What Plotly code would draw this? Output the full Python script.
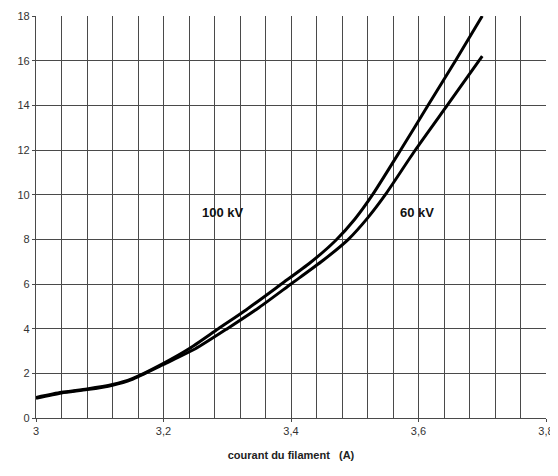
import plotly.graph_objects as go

# Data
x_100kv = [3.00, 3.04, 3.08, 3.12, 3.15, 3.20, 3.24, 3.286, 3.33, 3.385, 3.43, 3.47, 3.50, 3.528, 3.572, 3.615, 3.658, 3.70]
y_100kv = [0.92, 1.15, 1.30, 1.50, 1.75, 2.45, 3.10, 4.00, 4.85, 6.00, 6.95, 7.95, 8.90, 10.00, 12.00, 14.00, 16.00, 18.00]

x_60kv = [3.00, 3.04, 3.08, 3.12, 3.15, 3.20, 3.25, 3.30, 3.35, 3.40, 3.45, 3.49, 3.52, 3.548, 3.595, 3.645, 3.70]
y_60kv = [0.88, 1.12, 1.27, 1.47, 1.72, 2.40, 3.10, 4.00, 4.95, 6.00, 7.05, 8.00, 8.95, 10.00, 12.00, 14.00, 16.20]

label_100 = "100 kV"
label_60 = "60 kV"
x_title = "courant du filament   (A)"

x_tickvals = [3.0, 3.2, 3.4, 3.6, 3.8]
x_ticktext = ["3", "3,2", "3,4", "3,6", "3,8"]
y_tickvals = [0, 2, 4, 6, 8, 10, 12, 14, 16, 18]
y_ticktext = [str(v) for v in y_tickvals]

grid_color = "#4a4a4a"

fig = go.Figure()
fig.add_trace(go.Scatter(x=x_60kv, y=y_60kv, mode="lines",
                         line=dict(color="black", width=3, shape="spline", smoothing=0.6),
                         name=label_60, showlegend=False))
fig.add_trace(go.Scatter(x=x_100kv, y=y_100kv, mode="lines",
                         line=dict(color="black", width=3, shape="spline", smoothing=0.6),
                         name=label_100, showlegend=False))

fig.add_annotation(x=3.293, y=9.18, text="<b>" + label_100 + "</b>", showarrow=False,
                   font=dict(family="Liberation Sans, Arial", size=13, color="#111"))
fig.add_annotation(x=3.598, y=9.18, text="<b>" + label_60 + "</b>", showarrow=False,
                   font=dict(family="Liberation Sans, Arial", size=13, color="#111"))

# The page adds an 8px body margin, so the figure is sized to fit the window.
fig.update_layout(
    width=550, height=468,
    margin=dict(l=28, r=12, t=8, b=58),
    paper_bgcolor="white", plot_bgcolor="white",
    font=dict(family="Liberation Sans, Arial", size=11, color="#333"),
    xaxis=dict(
        range=[3.0, 3.8], tickvals=x_tickvals, ticktext=x_ticktext,
        showgrid=True, gridcolor=grid_color, gridwidth=1.3,
        minor=dict(dtick=0.04, tick0=3.0, showgrid=True, gridcolor=grid_color, gridwidth=1.3, ticks=""),
        showline=True, linecolor=grid_color, linewidth=1.3,
        ticks="outside", ticklen=3, tickcolor=grid_color,
        zeroline=False, automargin=False,
        title=dict(text="<b>" + x_title + "</b>", font=dict(size=11, color="#222"), standoff=14),
    ),
    yaxis=dict(
        range=[0, 18], tickvals=y_tickvals, ticktext=y_ticktext,
        showgrid=True, gridcolor=grid_color, gridwidth=1.3,
        showline=True, linecolor=grid_color, linewidth=1.3,
        ticks="outside", ticklen=3, tickcolor=grid_color,
        zeroline=False, automargin=False,
    ),
)

fig.write_html("out.html")
